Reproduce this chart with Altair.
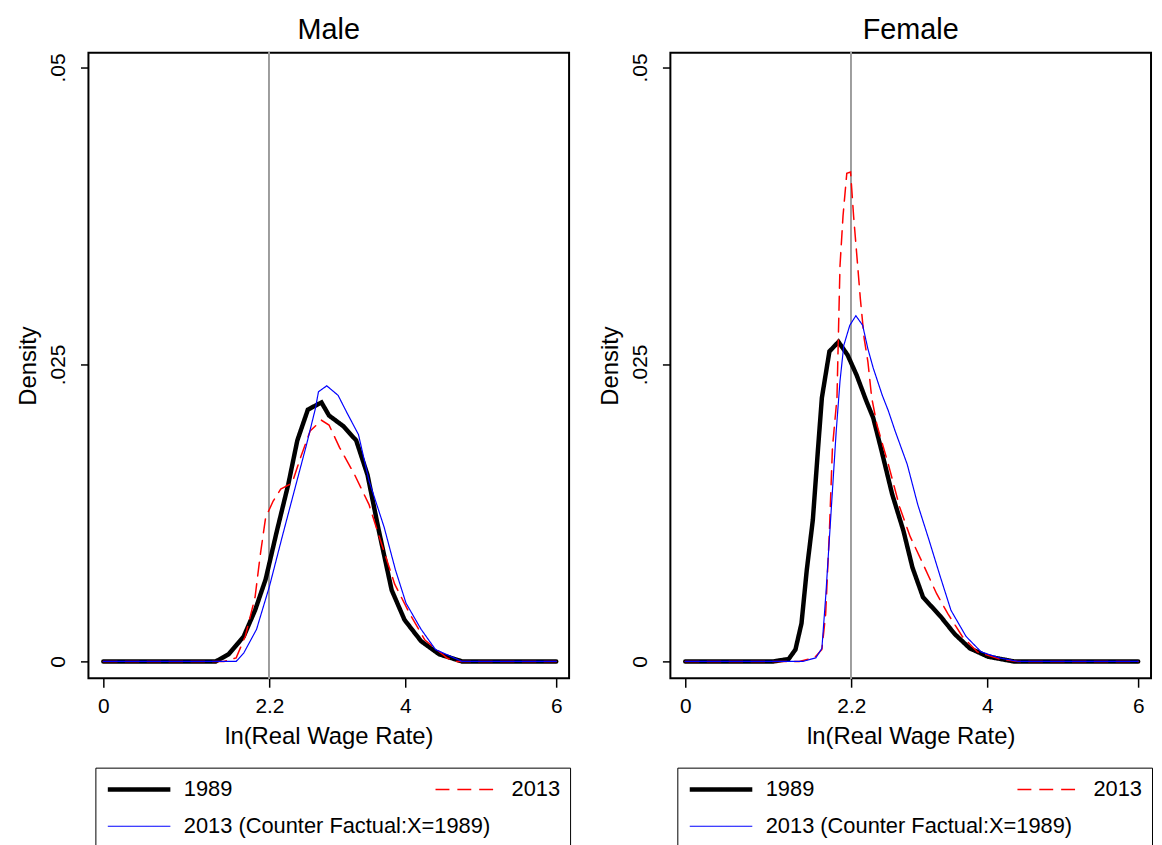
import altair as alt
import pandas as pd

# ---------------- data ----------------
series = ["1989", "2013 (Counter Factual:X=1989)", "2013"]
series_colors = ["black", "blue", "red"]
series_dashes = [[1, 0], [1, 0], [14, 8]]
series_widths = [4.5, 1.2, 1.5]
draw_order = ["1989", "2013", "2013 (Counter Factual:X=1989)"]

panel_titles = ["Male", "Female"]
x_ticks = [0, 2.2, 4, 6]
y_ticks = [0, 0.025, 0.05]
y_tick_labels = ["0", ".025", ".05"]
ref_line = 2.2

# Male
male_x_1989 = [0, 1.49, 1.66, 1.86, 2.01, 2.15, 2.30, 2.45, 2.57, 2.71, 2.89, 2.99, 3.18, 3.35, 3.50, 3.65, 3.82, 3.99, 4.21, 4.45, 4.75, 6]
male_d_1989 = [0, 0, 0.0006, 0.0021, 0.0043, 0.0069, 0.011, 0.0149, 0.0186, 0.0212, 0.0218, 0.0207, 0.0198, 0.0186, 0.0157, 0.011, 0.006, 0.0035, 0.0017, 0.0006, 0, 0]
male_x_2013 = [0, 1.6, 1.76, 1.88, 2.01, 2.08, 2.15, 2.25, 2.35, 2.50, 2.62, 2.74, 2.89, 2.99, 3.13, 3.33, 3.52, 3.67, 3.86, 4.06, 4.26, 4.55, 4.65, 6]
male_d_2013 = [0, 0, 0.0003, 0.0021, 0.0054, 0.009, 0.0121, 0.0135, 0.0145, 0.015, 0.0173, 0.0194, 0.0203, 0.0199, 0.018, 0.0157, 0.0132, 0.0102, 0.0065, 0.004, 0.0018, 0.0003, 0, 0]
male_x_cf = [0, 1.76, 1.86, 2.03, 2.20, 2.37, 2.54, 2.69, 2.81, 2.85, 2.96, 3.11, 3.23, 3.38, 3.52, 3.72, 3.87, 4.01, 4.21, 4.40, 4.75, 6]
male_d_cf = [0, 0, 0.0007, 0.0027, 0.0063, 0.0105, 0.0146, 0.0182, 0.0213, 0.0227, 0.0232, 0.0224, 0.0209, 0.0191, 0.0152, 0.0113, 0.0077, 0.0049, 0.0027, 0.001, 0, 0]

# Female
female_x_1989 = [0, 1.17, 1.37, 1.46, 1.54, 1.61, 1.69, 1.76, 1.81, 1.91, 2.03, 2.15, 2.27, 2.40, 2.49, 2.59, 2.74, 2.89, 3.01, 3.15, 3.38, 3.57, 3.77, 4.01, 4.35, 6]
female_d_1989 = [0, 0, 0.0002, 0.001, 0.0032, 0.0077, 0.0119, 0.018, 0.0222, 0.0261, 0.0269, 0.0258, 0.0241, 0.0219, 0.0205, 0.018, 0.0141, 0.011, 0.0079, 0.0054, 0.0038, 0.0023, 0.0011, 0.0004, 0, 0]
female_x_2013 = [0, 1.51, 1.71, 1.81, 1.86, 1.91, 1.95, 2.01, 2.03, 2.05, 2.09, 2.14, 2.19, 2.23, 2.27, 2.32, 2.37, 2.42, 2.47, 2.54, 2.69, 2.84, 2.98, 3.15, 3.33, 3.48, 3.67, 3.87, 4.16, 4.41, 6]
female_d_2013 = [0, 0, 0.0003, 0.001, 0.004, 0.011, 0.018, 0.0222, 0.0278, 0.0333, 0.0375, 0.0411, 0.0412, 0.0375, 0.0344, 0.0305, 0.0272, 0.0252, 0.0222, 0.0199, 0.0166, 0.013, 0.0105, 0.0082, 0.0057, 0.004, 0.0021, 0.0008, 0.0002, 0, 0]
female_x_cf = [0, 1.56, 1.73, 1.81, 1.86, 1.93, 2.00, 2.05, 2.10, 2.18, 2.26, 2.35, 2.42, 2.49, 2.61, 2.69, 2.78, 2.94, 3.08, 3.23, 3.38, 3.52, 3.72, 3.92, 4.16, 4.41, 6]
female_d_cf = [0, 0, 0.0003, 0.0011, 0.0054, 0.0124, 0.0194, 0.0236, 0.0266, 0.0283, 0.0291, 0.0283, 0.0263, 0.0247, 0.0224, 0.0211, 0.0194, 0.0166, 0.0132, 0.0102, 0.0071, 0.0043, 0.0021, 0.0008, 0.0003, 0, 0]

FONT = "Liberation Sans"
PLOT_W, PLOT_H = 484, 630
X_DOMAIN = [-0.197, 6.17]
Y_DOMAIN = [-0.00142, 0.05125]

y_label_expr = " : ".join(
    [f"datum.value == {v} ? '{l}'" for v, l in zip(y_ticks[:-1], y_tick_labels[:-1])]
) + f" : '{y_tick_labels[-1]}'"


def panel(title, curves):
    rows = []
    for s in draw_order:
        xs, ds = curves[s]
        for xv, dv in zip(xs, ds):
            rows.append({"wage": xv, "density": dv, "series": s})
    df = pd.DataFrame(rows)

    legend = alt.Legend(
        title=None, orient="none", legendX=7, legendY=720, columns=2,
        gridAlign="none", columnPadding=-58, rowPadding=13, padding=10,
        symbolType="stroke", symbolSize=3969, clipHeight=24, labelOffset=11,
        labelFont=FONT, labelFontSize=22, labelColor="black", labelLimit=500,
        strokeColor="black",
    )
    x_scale = alt.Scale(domain=X_DOMAIN, nice=False, zero=False)
    y_scale = alt.Scale(domain=Y_DOMAIN, nice=False, zero=False)

    rule = alt.Chart(df).mark_rule(color="#a0a0a0", strokeWidth=1).encode(
        x=alt.datum(ref_line, scale=x_scale)
    )
    lines = alt.Chart(df).mark_line(strokeCap="round").encode(
        x=alt.X("wage:Q", scale=x_scale,
                axis=alt.Axis(values=x_ticks, format="~g", title="ln(Real Wage Rate)")),
        y=alt.Y("density:Q", scale=y_scale,
                axis=alt.Axis(values=y_ticks, labelExpr=y_label_expr, title="Density",
                              labelAngle=270, labelAlign="center", labelBaseline="bottom")),
        color=alt.Color("series:N", scale=alt.Scale(domain=series, range=series_colors), legend=legend),
        strokeDash=alt.StrokeDash("series:N", scale=alt.Scale(domain=series, range=series_dashes), legend=legend),
        strokeWidth=alt.StrokeWidth("series:N", scale=alt.Scale(type="ordinal", domain=series, range=series_widths), legend=legend),
        order=alt.Order("idx:Q"),
    ).transform_window(idx="row_number()")

    return alt.layer(rule, lines).properties(
        width=PLOT_W, height=PLOT_H,
        title=alt.TitleParams(title, font=FONT, fontSize=29, fontWeight="normal",
                              color="black", baseline="alphabetic", offset=-16),
    )


male = panel(panel_titles[0], {"1989": (male_x_1989, male_d_1989), "2013": (male_x_2013, male_d_2013),
                               "2013 (Counter Factual:X=1989)": (male_x_cf, male_d_cf)})
female = panel(panel_titles[1], {"1989": (female_x_1989, female_d_1989), "2013": (female_x_2013, female_d_2013),
                                 "2013 (Counter Factual:X=1989)": (female_x_cf, female_d_cf)})

chart = alt.hconcat(male, female, spacing=102, bounds="flush").resolve_scale(
    color="independent", strokeDash="independent", strokeWidth="independent"
).resolve_legend(
    color="independent", strokeDash="independent", strokeWidth="independent"
).properties(
    padding={"left": 8, "top": 4, "right": 0, "bottom": 0},
    background="white",
).configure_view(
    stroke="black", strokeWidth=2
).configure_axis(
    domain=False, grid=False, tickColor="black", tickWidth=1.5, tickSize=9,
    labelFont=FONT, labelFontSize=21, labelColor="black", labelPadding=8,
    titleFont=FONT, titleFontSize=24, titleFontWeight="normal", titleColor="black",
).configure_axisY(
    labelPadding=12, titlePadding=7, tickSize=8,
).configure_axisX(
    titlePadding=9,
)

chart.save("out.html", embed_options={"renderer": "svg", "actions": False})
